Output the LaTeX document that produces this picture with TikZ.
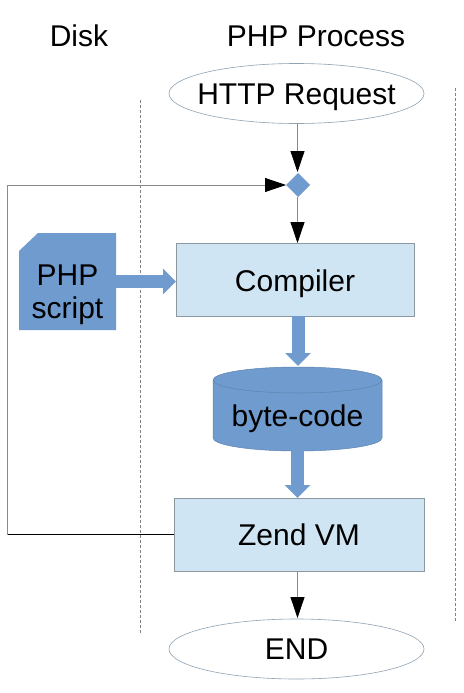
\documentclass[tikz,border=0pt]{standalone}
\usepackage{fontspec}
\setmainfont{Liberation Sans}
\usetikzlibrary{shapes.geometric,arrows.meta}
\definecolor{blk}{HTML}{6F9BCE}
\definecolor{lite}{HTML}{CFE5F4}
\definecolor{edge}{HTML}{8C979E}
\definecolor{ell}{HTML}{8FA3B5}
\definecolor{wire}{HTML}{8A8A8A}
\newcommand{\lbl}[2]{\raisebox{#1}[0pt][0pt]{\makebox[0pt]{#2}}}
\tikzset{
  x=1pt,y=-1pt,
  every node/.style={font=\fontsize{30}{34}\selectfont,text=black,inner sep=0pt,outer sep=0pt},
  terminal/.style={ellipse,draw=ell,line width=0.6pt,fill=white,minimum width=255pt,minimum height=60pt},
  procbox/.style={rectangle,draw=edge,line width=1pt,fill=lite},
  flow/.style={draw=wire,line width=0.8pt,-{Triangle[length=21pt,width=14pt,black]}},
  plainwire/.style={line width=0.8pt},
  blockflow/.style={draw=blk,line width=13pt,-{Triangle[length=13pt,width=25pt,fill=blk,color=blk]}},
  lane/.style={draw=gray,line width=0.6pt,densely dashed},
  title/.style={anchor=center},
  cylrim/.style={x radius=84.5pt,y radius=13pt}
}
\begin{document}
\begin{tikzpicture}
\useasboundingbox (0,0) rectangle (463,693);
\fill[white] (0,0) rectangle (463,693);
% lanes
\coordinate (l1a) at (140.5,100); \coordinate (l1b) at (140.5,633);
\coordinate (l2a) at (455.5,88); \coordinate (l2b) at (455.5,621);
\draw[lane] (l1a) -- (l1b);
\draw[lane] (l2a) -- (l2b);
% titles
\node[title] (disk) at (79,36) {Disk};
\node[title] (proc) at (316,36) {PHP Process};
% nodes
\node[terminal] (http) at (296.5,93.5) {\lbl{-10.5pt}{HTTP Request}};
\node[terminal] (endn) at (296.5,649) {\lbl{-10.5pt}{END}};
\node[diamond,fill=blk,minimum width=24pt,minimum height=24pt] (merge) at (298,185) {};
\node[procbox,minimum width=238pt,minimum height=73pt] (comp) at (295,279.5) {\lbl{-12pt}{Compiler}};
\node[procbox,minimum width=250pt,minimum height=73pt] (zend) at (299,534.5) {\lbl{-10.5pt}{Zend VM}};
\node[minimum width=97pt,minimum height=97pt] (script) at (67.5,281.5) {};
\fill[blk] ([yshift=-18pt]script.north west) -- ([xshift=19pt]script.north west) -- (script.north east) -- (script.south east) -- (script.south west) -- cycle;
\node (scriptlabel) at (script.center) {\lbl{-3.5pt}{PHP}\lbl{-36.5pt}{script}};
\node[minimum width=169pt,minimum height=84pt] (code) at (297.5,409) {};
\path[fill=blk,draw=blk!85!black,line width=0.5pt] ([yshift=-13pt]code.north west) arc[start angle=180,end angle=0,cylrim] -- ([yshift=13pt]code.south east) arc[start angle=0,end angle=-180,cylrim] -- cycle;
\draw[draw=blk!85!black,line width=0.5pt] ([yshift=-13pt]code.north west) arc[start angle=180,end angle=360,cylrim];
\node (codelabel) at (code.center) {\lbl{-17pt}{byte-code}};
% connectors
\coordinate (httpfoot) at (297.5,124);
\coordinate (mergetop) at (297.5,172);
\coordinate (mergefoot) at (297.5,197);
\coordinate (comptop) at (297.5,243);
\coordinate (zendfoot) at (297.5,571);
\coordinate (endtop) at (297.5,618);
\draw[flow] (httpfoot) -- (mergetop);
\draw[flow] (mergefoot) -- (comptop);
\draw[flow] (zendfoot) -- (endtop);
\coordinate (c1) at (7.5,534.5);
\coordinate (c2) at (7.5,185);
\draw[plainwire,black] (zend.west |- c1) -- (c1);
\draw[flow] (c1) -- (c2) -- (merge.west);
% block arrows
\coordinate (s1) at (116,281.5); \coordinate (s2) at (176,281.5);
\coordinate (b1) at (298,316); \coordinate (b2) at (298,366);
\coordinate (b3) at (297.5,447); \coordinate (b4) at (297.5,498);
\draw[blockflow] (s1) -- (s2);
\draw[blockflow] (b1) -- (b2);
\draw[blockflow] (b3) -- (b4);
\end{tikzpicture}
\end{document}
